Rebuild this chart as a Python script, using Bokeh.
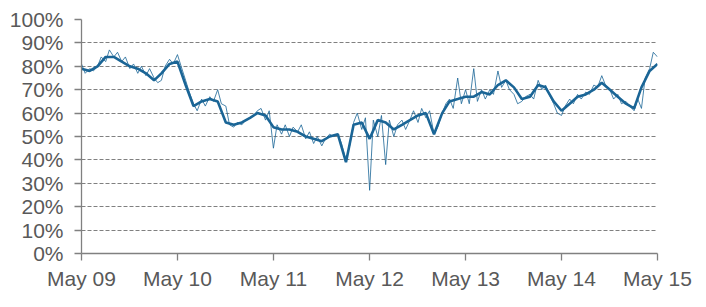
import pandas as pd
from bokeh.plotting import figure
from bokeh.models import Range1d, FixedTicker, NumeralTickFormatter, CustomJSTickFormatter
from bokeh.embed import file_html
from bokeh.resources import INLINE

# Thin series: semi-monthly observations (1st and 15th), May 2009 .. May 2015
thin_values = [
    # 2009 May..Dec
    81, 77, 79, 78, 80, 84, 82, 87, 84, 86, 82, 84, 79, 81, 77, 80,
    # 2010
    76, 79, 75, 73, 74, 80, 83, 81, 85, 80, 74, 69, 64, 61, 66, 63, 67, 65, 70, 64, 63, 55, 54, 56,
    # 2011
    55, 57, 58, 59, 61, 62, 57, 61, 45, 55, 51, 55, 50, 54, 52, 55, 49, 52, 47, 50, 46, 49, 51, 50,
    # 2012
    51, 47, 40, 46, 56, 60, 53, 58, 27, 57, 50, 59, 38, 57, 50, 55, 57, 53, 57, 61, 56, 62, 58, 61,
    # 2013
    51, 54, 60, 64, 66, 62, 75, 64, 70, 64, 79, 65, 70, 66, 70, 68, 78, 71, 74, 70, 68, 64, 65, 67,
    # 2014
    68, 66, 74, 70, 72, 68, 64, 60, 59, 63, 66, 64, 68, 66, 69, 68, 72, 71, 76, 72, 70, 66, 68, 64,
    # 2015 Jan..May
    65, 63, 61, 66, 62, 75, 79, 86, 84,
]

# Thick series: smoothed monthly values, May 2009 .. May 2015
thick_values = [
    79, 78, 80, 84, 84, 82, 80, 79,
    77, 74, 77, 81, 82, 72, 63, 65, 66, 65, 56, 55,
    56, 58, 60, 59, 54, 53, 53, 52, 50, 49, 48, 50,
    51, 39, 55, 56, 49, 57, 56, 53, 55, 57, 59, 60,
    51, 60, 65, 66, 67, 67, 69, 68, 72, 74, 71, 66,
    67, 72, 71, 65, 61, 64, 67, 68, 70, 73, 70, 67,
    64, 62, 71, 78, 81,
]

tick_years = [2009, 2010, 2011, 2012, 2013, 2014, 2015]
tick_labels = ["May 09", "May 10", "May 11", "May 12", "May 13", "May 14", "May 15"]
y_ticks = [0, 0.1, 0.2, 0.3, 0.4, 0.5, 0.6, 0.7, 0.8, 0.9, 1.0]

thin_dates = pd.date_range("2009-05-01", "2015-05-01", freq="SMS")
thick_dates = pd.date_range("2009-05-01", "2015-05-01", freq="MS")

COLOR = "#1A6596"
GREY = "#808080"
TEXT = "#595959"
FONT = "Liberation Sans"

x0 = pd.Timestamp("2009-05-01")
x1 = pd.Timestamp("2015-05-01")

p = figure(width=706, height=307, x_axis_type="datetime",
           output_backend="svg", toolbar_location=None,
           x_range=Range1d(x0, x1), y_range=Range1d(0, 1),
           min_border_left=81, min_border_right=49,
           min_border_top=19, min_border_bottom=54)
p.outline_line_color = None
p.background_fill_color = "white"
p.border_fill_color = "white"

p.line(thin_dates, [v / 100 for v in thin_values], line_color=COLOR, line_width=1, line_alpha=0.8)
p.line(thick_dates, [v / 100 for v in thick_values], line_color=COLOR, line_width=2.6)

tick_ms = [pd.Timestamp(f"{y}-05-01").value / 1e6 for y in tick_years]
label_map = {str(int(t)): lab for t, lab in zip(tick_ms, tick_labels)}

p.xaxis.ticker = FixedTicker(ticks=tick_ms)
p.xaxis.formatter = CustomJSTickFormatter(args=dict(m=label_map),
                                          code="return m[String(Math.round(tick))] || '';")
p.yaxis.ticker = FixedTicker(ticks=y_ticks)
p.yaxis.formatter = NumeralTickFormatter(format="0%")

for ax in (p.xaxis, p.yaxis):
    ax.axis_line_color = GREY
    ax.axis_line_width = 1.3
    ax.major_tick_line_color = GREY
    ax.major_tick_line_width = 1.3
    ax.major_tick_out = 7
    ax.major_tick_in = 0
    ax.minor_tick_line_color = None
    ax.major_label_text_font = FONT
    ax.major_label_text_font_size = "21px"
    ax.major_label_text_color = TEXT

p.yaxis.major_label_standoff = 11
p.xaxis.major_label_standoff = 6

p.xgrid.grid_line_color = None
p.ygrid.grid_line_color = GREY
p.ygrid.grid_line_dash = "4 2"
p.ygrid.grid_line_width = 1

open("out.html", "w").write(file_html(p, INLINE))
